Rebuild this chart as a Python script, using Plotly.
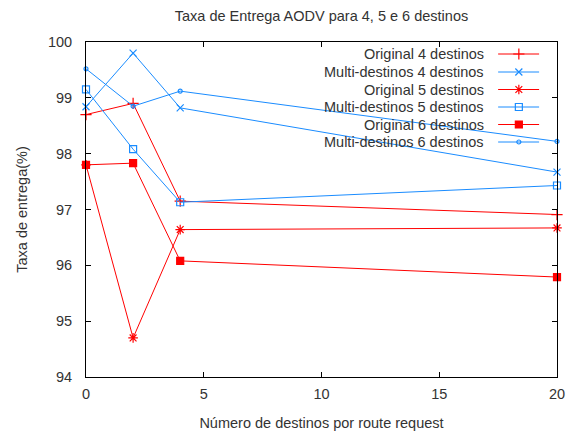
import plotly.graph_objects as go

x_vals = [0, 2, 4, 20]
orig4 = [98.70, 98.90, 97.15, 96.91]
multi4 = [98.84, 99.80, 98.82, 97.67]
orig5 = [97.80, 94.70, 96.64, 96.67]
multi5 = [99.15, 98.08, 97.13, 97.43]
orig6 = [97.80, 97.83, 96.08, 95.79]
multi6 = [99.52, 98.85, 99.12, 98.22]

series_names = ["Original 4 destinos", "Multi-destinos 4 destinos",
                "Original 5 destinos", "Multi-destinos 5 destinos",
                "Original 6 destinos", "Multi-destinos 6 destinos"]
series_data = [orig4, multi4, orig5, multi5, orig6, multi6]

RED = "#ff0000"
BLUE = "#1a8cff"
colors = [RED, BLUE, RED, BLUE, RED, BLUE]
symbols = ["cross-thin-open", "x-thin-open", "asterisk-open", "square-open", "square", "circle-open"]
sizes = [8, 7, 8, 7, 7, 4]

# page body has an 8px margin; compensate so the plot lands where the reference has it
W, H = 569, 424
fig = go.Figure()
for name, ys, c, s, sz in zip(series_names, series_data, colors, symbols, sizes):
    fig.add_trace(go.Scatter(
        x=x_vals, y=ys, mode="lines+markers", name=name,
        line=dict(color=c, width=1),
        marker=dict(symbol=s, size=sz, color=c, line=dict(color=c, width=1.2)),
        showlegend=False, cliponaxis=False))

# gnuplot-style key: text right-aligned, sample to the right
row_px = [54, 72, 89.5, 107, 124.5, 142]
plot_top, plot_h = 42, 335
for i, (name, c, s, sz) in enumerate(zip(series_names, colors, symbols, sizes)):
    yp = 1 - (row_px[i] - plot_top) / plot_h
    fig.add_trace(go.Scatter(
        x=[0.875, 0.962], y=[yp, yp], xaxis="x2", yaxis="y2", mode="lines",
        line=dict(color=c, width=1), showlegend=False, hoverinfo="skip"))
    fig.add_trace(go.Scatter(
        x=[0.919], y=[yp], xaxis="x2", yaxis="y2", mode="markers",
        marker=dict(symbol=s, size=sz, color=c, line=dict(color=c, width=1.2)),
        showlegend=False, hoverinfo="skip"))
    fig.add_annotation(x=0.849, y=yp, xref="x2", yref="y2", text=name,
                       showarrow=False, xanchor="right", yanchor="middle",
                       font=dict(size=14.5, color="#333333"))

fig.update_layout(
    width=W, height=H,
    margin=dict(l=78, r=20, t=34, b=55),
    paper_bgcolor="white", plot_bgcolor="white",
    font=dict(family="Liberation Sans, Arial, sans-serif", size=14.5, color="#333333"),
    title=dict(text="Taxa de Entrega AODV para 4, 5 e 6 destinos",
               x=313.5 / W, xanchor="center", y=1 - 8 / H, yanchor="middle",
               font=dict(size=14.5, color="#333333")),
    xaxis=dict(range=[0, 20], tickvals=[0, 5, 10, 15, 20], showgrid=False, zeroline=False,
               showline=True, linecolor="black", linewidth=1, mirror="ticks",
               ticks="inside", ticklen=5, tickcolor="black",
               ticklabelstandoff=4, tickfont=dict(size=14.5), automargin=False,
               title=dict(text="Número de destinos por route request", standoff=16,
                          font=dict(size=14.5))),
    yaxis=dict(range=[94, 100], tickvals=[94, 95, 96, 97, 98, 99, 100], showgrid=False,
               zeroline=False, showline=True, linecolor="black", linewidth=1, mirror="ticks",
               ticks="inside", ticklen=5, tickcolor="black",
               ticklabelstandoff=10, tickfont=dict(size=14.5), automargin=False,
               title=dict(text="Taxa de entrega(%)", standoff=16, font=dict(size=14.5))),
    xaxis2=dict(range=[0, 1], overlaying="x", visible=False),
    yaxis2=dict(range=[0, 1], overlaying="y", visible=False),
)

fig.write_html("out.html")
